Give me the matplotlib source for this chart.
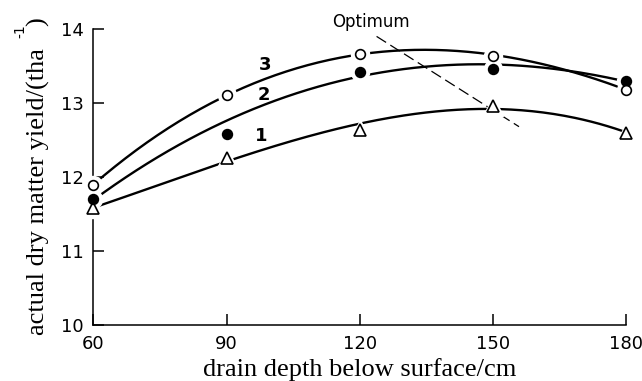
import numpy as np
import matplotlib.pyplot as plt

# drain depth (cm) and measured dry matter yield (t/ha) for the three treatments
depth = [60, 90, 120, 150, 180]
yield_1 = [11.58, 12.26, 12.635, 12.96, 12.59]
yield_2 = [11.70, 12.577, 13.415, 13.455, 13.30]
yield_3 = [11.89, 13.108, 13.66, 13.64, 13.17]

# fitted response curves, read at the same depths
curve_1 = [11.58, 12.23, 12.69, 12.94, 12.60]
curve_2 = [11.70, 12.72, 13.42, 13.48, 13.30]
curve_3 = [11.90, 13.10, 13.66, 13.65, 13.18]

series_labels = ['1', '2', '3']
label_pos = [(97.8, 12.55), (98.5, 13.11), (98.7, 13.52)]

# optimum line end points
optimum_x = [123.8, 155.9]
optimum_y = [13.90, 12.68]

plt.rcParams['font.family'] = 'DejaVu Sans'
serif = 'Liberation Serif'

fig = plt.figure(figsize=(6.42, 3.81), dpi=100)
ax = fig.add_axes([0.1456, 0.147, 0.8294, 0.7769])

xs = np.linspace(60, 180, 200)
styles = [
    dict(marker='^', mfc='white', mec='black', ms=8),
    dict(marker='o', mfc='black', mec='black', ms=7),
    dict(marker='o', mfc='white', mec='black', ms=7),
]
for ys, cv, st in zip([yield_1, yield_2, yield_3],
                      [curve_1, curve_2, curve_3], styles):
    coef = np.polyfit(depth, cv, 3)
    ax.plot(xs, np.polyval(coef, xs), color='black', lw=1.7, zorder=2,
            solid_capstyle='butt')
    # white halo so the curve stops short of each marker
    ax.plot(depth, ys, ls='none', marker=st['marker'], ms=st['ms'] + 6,
            mfc='white', mec='white', zorder=3, clip_on=False)
    ax.plot(depth, ys, ls='none', mew=1.2, zorder=4, clip_on=False, **st)

for lab, (lx, ly) in zip(series_labels, label_pos):
    ax.text(lx, ly, lab, fontsize=13, fontweight='bold', ha='center', va='center')

ax.plot(optimum_x, optimum_y, color='black', lw=0.9, dashes=(9, 4), zorder=1)
ax.text(122.6, 14.1, 'Optimum', fontsize=12, ha='center', va='center',
        clip_on=False)

ax.set_xlim(60, 180)
ax.set_ylim(10, 14)
ax.set_xticks(depth)
ax.set_yticks([10, 11, 12, 13, 14])
ax.tick_params(direction='in', length=8, width=1.1, labelsize=13, pad=7)
for side in ['top', 'right']:
    ax.spines[side].set_visible(False)
for side in ['left', 'bottom']:
    ax.spines[side].set_linewidth(1.1)

ax.set_xlabel('drain depth below surface/cm', fontsize=19, family=serif,
              labelpad=4)

# y label in pieces: the unit exponent sits in a gap before the bracket
fig.text(38 / 642, 1 - 335 / 381, 'actual dry matter yield/(tha', fontsize=19,
         family=serif, rotation=90, ha='center', va='bottom')
fig.text(38 / 642, 1 - 22 / 381, ')', fontsize=19, family=serif, rotation=90,
         ha='center', va='center')
fig.text(20 / 642, 1 - 31 / 381, '-1', fontsize=10, rotation=90,
         ha='center', va='center')

fig.savefig('out.png', dpi=100)
